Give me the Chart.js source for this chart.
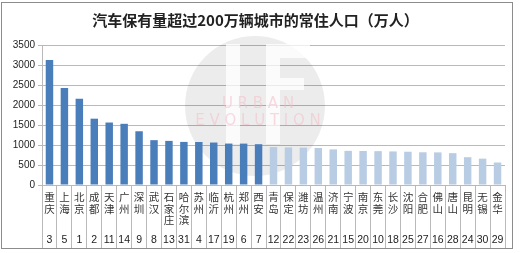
<!DOCTYPE html>
<html>
<head>
<meta charset="utf-8">
<script src="https://cdn.jsdelivr.net/npm/chart.js@4"></script>
<style>
    html, body { margin: 0; padding: 0; background: #fff; }
    #box { position: relative; width: 520px; height: 253px; }
    #frame { position: absolute; left: 1px; top: 2px; width: 512px; height: 247px; border: 1px solid #8c8c8c; box-sizing: border-box; pointer-events: none; }
</style>
</head>
<body>
<div id="box">
    <canvas id="chart" width="520" height="253"></canvas>
    <div id="frame"></div>
</div>
<script>
// cidades e valores (万人)
const cidades = ['重庆','上海','北京','成都','天津','广州','深圳','武汉','石家庄','哈尔滨','苏州','临沂','杭州','郑州','西安',
    '青岛','保定','潍坊','温州','济南','宁波','南京','东莞','长沙','沈阳','合肥','佛山','唐山','昆明','无锡','金华'];
const rankings = ['3','5','1','2','11','14','9','8','13','31','4','17','19','6','7',
    '12','22','23','26','21','15','20','10','18','25','27','16','28','24','30','29'];
const populacao = [3124, 2428, 2154, 1658, 1562, 1530, 1344, 1121, 1103, 1077, 1075, 1062, 1036, 1035, 1020,
    949, 940, 935, 925, 890, 854, 850, 846, 839, 832, 818, 815, 796, 695, 659, 562];
const nDestaque = 15; // primeiras barras em azul escuro
const yTicks = [0, 500, 1000, 1500, 2000, 2500, 3000, 3500];

const corEscura = '#4a7ebb';
const corClara = '#b8cce4';
const corGrade = '#b9b9b9';

// marca d'agua no fundo
const marcaDagua = {
    id: 'marcaDagua',
    beforeDatasetsDraw(chart) {
        const ctx = chart.ctx;
        ctx.save();
        ctx.beginPath();
        ctx.arc(255, 106, 70, 0, Math.PI * 2);
        ctx.fillStyle = 'rgba(0,0,0,0.075)';
        ctx.fill();
        ctx.fillStyle = 'rgba(255,255,255,0.75)';
        ctx.fillRect(226, 44, 14, 100);
        ctx.fillRect(266, 44, 14, 100);
        ctx.fillRect(280, 44, 30, 14);
        ctx.fillRect(280, 78, 24, 12);
        ctx.font = '15px "DejaVu Sans"';
        ctx.fillStyle = 'rgba(240,190,200,0.55)';
        ctx.textAlign = 'center';
        ctx.fillText('U R B A N', 258, 108);
        ctx.fillText('E V O L U T I O N', 258, 125);
        ctx.restore();
    }
};

new Chart(document.getElementById('chart'), {
    type: 'bar',
    data: {
        labels: cidades,
        datasets: [{
            data: populacao,
            backgroundColor: populacao.map((v, i) => i < nDestaque ? corEscura : corClara),
            barPercentage: 0.5,
            categoryPercentage: 1
        }]
    },
    options: {
        responsive: false,
        animation: false,
        layout: { padding: { left: 6, right: 15, top: 0, bottom: 4 } },
        plugins: {
            legend: { display: false },
            tooltip: { enabled: false },
            title: {
                display: true,
                text: '汽车保有量超过200万辆城市的常住人口（万人）',
                color: '#222',
                font: { family: '"Noto Sans CJK SC"', size: 15, weight: 'bold' },
                padding: { top: 11, bottom: 16 }
            }
        },
        scales: {
            y: {
                min: 0, max: 3500,
                afterBuildTicks: s => { s.ticks = yTicks.map(v => ({ value: v })); },
                afterFit: s => { s.width = 36; },
                grid: { color: corGrade, tickLength: 4, tickColor: corGrade },
                border: { color: corGrade },
                ticks: {
                    color: '#222', padding: 3, font: { family: '"Liberation Sans"', size: 10 },
                    callback: v => String(v)
                }
            },
            x: {
                position: 'bottom',
                afterFit: s => { s.height = 47; },
                grid: { offset: true, drawOnChartArea: false, tickLength: 47, color: corGrade },
                border: { color: corGrade },
                ticks: {
                    maxRotation: 0, autoSkip: false, padding: -41,
                    color: '#333',
                    font: { family: '"Noto Sans CJK SC"', size: 10.5, lineHeight: 1.12 },
                    callback: (v, i) => cidades[i].split('')
                }
            },
            x2: {
                type: 'category',
                labels: rankings,
                position: 'bottom',
                offset: true,
                afterFit: s => { s.height = 17; },
                grid: { offset: true, drawOnChartArea: false, tickLength: 17, color: corGrade },
                border: { display: false },
                ticks: {
                    maxRotation: 0, autoSkip: false, padding: -15,
                    color: '#222',
                    font: { family: '"Liberation Sans"', size: 10.5 }
                }
            }
        }
    },
    plugins: [marcaDagua]
});
</script>
</body>
</html>
